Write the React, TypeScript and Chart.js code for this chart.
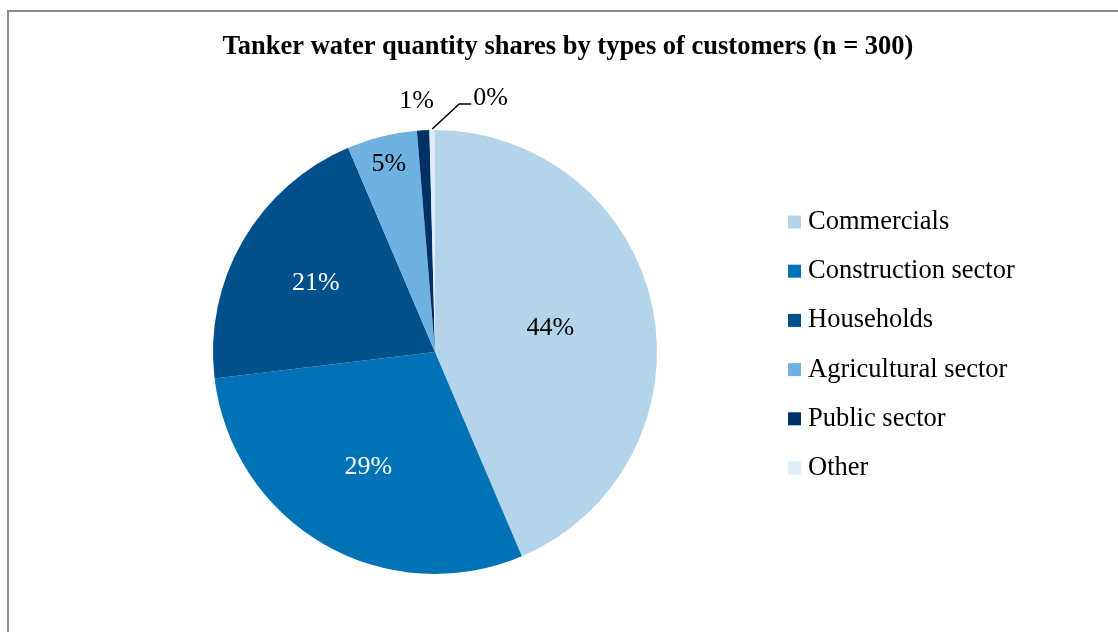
import React, { useEffect, useRef } from "react";
import { Chart, registerables } from "chart.js";

Chart.register(...registerables);

const TITLE = "Tanker water quantity shares by types of customers (n = 300)";
const categories = [
  "Commercials",
  "Construction sector",
  "Households",
  "Agricultural sector",
  "Public sector",
  "Other",
];
const shares = [43.6, 29.5, 20.5, 5.1, 0.9, 0.4];
const percentLabels = ["44%", "29%", "21%", "5%", "1%", "0%"];
const sliceColors = ["#B4D4EB", "#0073B7", "#00508C", "#6DB2E1", "#003166", "#DEEFFB"];
const labelColors = ["#000000", "#FFFFFF", "#FFFFFF", "#000000", "#000000", "#000000"];
const labelRadius = [0.53, 0.6, 0.62, 0.87, 1.13, 0];
const SERIF = "'Liberation Serif', 'Times New Roman', serif";

const decorPlugin = {
  id: "decor",
  beforeDraw(chart: any) {
    const ctx = chart.ctx;
    ctx.save();
    ctx.fillStyle = "#ffffff";
    ctx.fillRect(0, 0, chart.width, chart.height);
    ctx.strokeStyle = "#8c8c8c";
    ctx.lineWidth = 2;
    ctx.strokeRect(8, 11, 1300, 800);
    ctx.restore();
  },
  afterDraw(chart: any) {
    const ctx = chart.ctx;
    ctx.save();
    // title
    ctx.fillStyle = "#000";
    ctx.font = `bold 26.5px ${SERIF}`;
    ctx.textAlign = "center";
    ctx.textBaseline = "middle";
    ctx.fillText(TITLE, 568, 47);

    // data labels
    const meta = chart.getDatasetMeta(0);
    ctx.font = `26px ${SERIF}`;
    meta.data.forEach((arc: any, i: number) => {
      const p = arc.getProps(["x", "y", "startAngle", "endAngle", "outerRadius"], true);
      const mid = (p.startAngle + p.endAngle) / 2;
      ctx.fillStyle = labelColors[i];
      if (i === categories.length - 1) {
        const sx = p.x + p.outerRadius * Math.cos(mid);
        const sy = p.y + p.outerRadius * Math.sin(mid);
        ctx.strokeStyle = "#000";
        ctx.lineWidth = 1.5;
        ctx.beginPath();
        ctx.moveTo(sx, sy - 1);
        ctx.lineTo(sx + 27, sy - 26);
        ctx.lineTo(sx + 39, sy - 26);
        ctx.stroke();
        ctx.textAlign = "left";
        ctx.fillText(percentLabels[i], sx + 41, sy - 32);
        return;
      }
      const r = p.outerRadius * labelRadius[i];
      let lx = p.x + r * Math.cos(mid);
      const ly = p.y + r * Math.sin(mid);
      if (i === 4) lx -= 5;
      ctx.textAlign = "center";
      ctx.fillText(percentLabels[i], lx, ly);
    });

    // legend
    ctx.font = `26.5px ${SERIF}`;
    ctx.textAlign = "left";
    categories.forEach((c, i) => {
      const y = 222 + i * 49.2;
      ctx.fillStyle = sliceColors[i];
      ctx.fillRect(788, y - 6.5, 13, 13);
      ctx.fillStyle = "#000";
      ctx.fillText(c, 808, y);
    });
    ctx.restore();
  },
};

export default function App() {
  const ref = useRef<HTMLCanvasElement | null>(null);
  useEffect(() => {
    document.body.style.margin = "0";
    const canvas = ref.current!;
    const chart = new Chart(canvas, {
      type: "pie",
      data: {
        labels: categories,
        datasets: [
          {
            data: shares,
            backgroundColor: sliceColors,
            borderWidth: 0,
          },
        ],
      },
      options: {
        responsive: false,
        animation: false,
        devicePixelRatio: 1,
        layout: { padding: { left: 213, right: 461, top: 130, bottom: 58 } },
        plugins: {
          legend: { display: false },
          title: { display: false },
          tooltip: { enabled: false },
        },
      },
      plugins: [decorPlugin],
    });
    return () => chart.destroy();
  }, []);
  return <canvas ref={ref} width={1118} height={632} style={{ display: "block" }} />;
}
